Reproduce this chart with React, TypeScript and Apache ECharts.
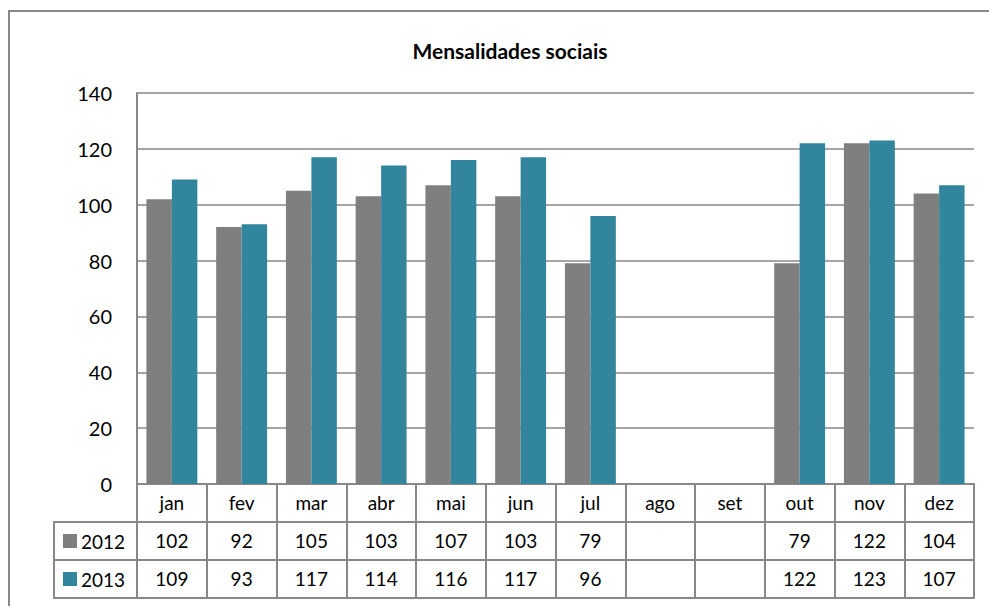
import React, { useEffect, useRef } from "react";
import * as echarts from "echarts";

const months = ["jan", "fev", "mar", "abr", "mai", "jun", "jul", "ago", "set", "out", "nov", "dez"];
const seriesNames = ["2012", "2013"];
const values2012: (number | null)[] = [102, 92, 105, 103, 107, 103, 79, null, null, 79, 122, 104];
const values2013: (number | null)[] = [109, 93, 117, 114, 116, 117, 96, null, null, 122, 123, 107];
const titleText = "Mensalidades sociais";

const FONT = "Lato, 'Liberation Sans', sans-serif";
const LINE = "#888888";
const GRAY = "#7f7f7f";
const TEAL = "#31859c";
const seriesColors = [GRAY, TEAL];

export default function App() {
  const ref = useRef<HTMLDivElement>(null);
  useEffect(() => {
    if (!ref.current) return;
    const chart = echarts.init(ref.current, null, { renderer: "svg" });
    const gridLeft = 137;
    const gridTop = 93;
    const gridRight = 15;
    const gridBottom = 122;
    const rowH = 38;
    const axisBottomY = 606 - gridBottom;
    const tickStyle = { show: true, length: rowH, interval: 0, lineStyle: { color: LINE, width: 2 } };
    const rowAxis = (offset: number, vals: (number | null)[] | null) => ({
      type: "category",
      data: months,
      position: "bottom",
      offset,
      gridIndex: 0,
      axisLine: { show: true, lineStyle: { color: LINE, width: 2 } },
      axisTick: vals === null && offset > 100 ? { show: false } : tickStyle,
      axisLabel: {
        show: vals !== null || offset === 0,
        interval: 0,
        margin: 9,
        color: "#000",
        fontFamily: FONT,
        fontSize: 19,
        formatter: (v: string, i: number) => {
          if (vals === null) return v;
          const x = vals[i];
          return x === null || x === undefined ? "" : String(x);
        },
      },
      splitLine: { show: false },
    });
    const legendGraphics: any[] = [];
    seriesNames.forEach((name, k) => {
      const cy = axisBottomY + rowH * (k + 1) + rowH / 2;
      legendGraphics.push({
        type: "rect",
        shape: { x: 63, y: cy - 7, width: 14, height: 14 },
        style: { fill: seriesColors[k] },
        silent: true,
      });
      legendGraphics.push({
        type: "text",
        x: 81,
        y: cy,
        style: {
          text: name,
          fontFamily: FONT,
          fontSize: 19,
          fill: "#000",
          verticalAlign: "middle",
          align: "left",
        },
        silent: true,
      });
    });
    chart.setOption({
      animation: false,
      title: {
        text: titleText,
        left: 505,
        textAlign: "center",
        top: 35,
        textStyle: { fontFamily: FONT, fontSize: 21, fontWeight: "bold", color: "#000" },
      },
      grid: { left: gridLeft, top: gridTop, right: gridRight, bottom: gridBottom, containLabel: false },
      xAxis: [
        rowAxis(0, null),
        rowAxis(rowH, values2012),
        rowAxis(rowH * 2, values2013),
        rowAxis(rowH * 3, null),
      ],
      yAxis: {
        type: "value",
        min: 0,
        max: 140,
        interval: 20,
        axisLine: { show: true, lineStyle: { color: LINE, width: 2 } },
        axisTick: { show: false },
        axisLabel: { margin: 25, color: "#000", fontFamily: FONT, fontSize: 20 },
        splitLine: { lineStyle: { color: LINE, width: 1.5 } },
      },
      series: [
        {
          name: seriesNames[0],
          type: "bar",
          data: values2012,
          xAxisIndex: 0,
          barGap: "0%",
          barCategoryGap: "27%",
          itemStyle: { color: GRAY },
        },
        {
          name: seriesNames[1],
          type: "bar",
          data: values2013,
          xAxisIndex: 0,
          barGap: "0%",
          barCategoryGap: "27%",
          itemStyle: { color: TEAL },
        },
      ],
      graphic: [
        {
          type: "rect",
          shape: { x: 9, y: 11, width: 1200, height: 800 },
          style: { fill: "none", stroke: LINE, lineWidth: 2 },
          silent: true,
        },
        {
          type: "rect",
          shape: { x: 54, y: axisBottomY + rowH, width: gridLeft - 54, height: rowH * 2 },
          style: { fill: "none", stroke: LINE, lineWidth: 2 },
          silent: true,
        },
        {
          type: "line",
          shape: { x1: 54, y1: axisBottomY + rowH * 2, x2: gridLeft, y2: axisBottomY + rowH * 2 },
          style: { stroke: LINE, lineWidth: 2 },
          silent: true,
        },
        ...legendGraphics,
      ],
    });
    return () => chart.dispose();
  }, []);
  return (
    <div
      ref={ref}
      style={{ position: "fixed", left: 0, top: 0, width: 989, height: 606, background: "#fff" }}
    />
  );
}
